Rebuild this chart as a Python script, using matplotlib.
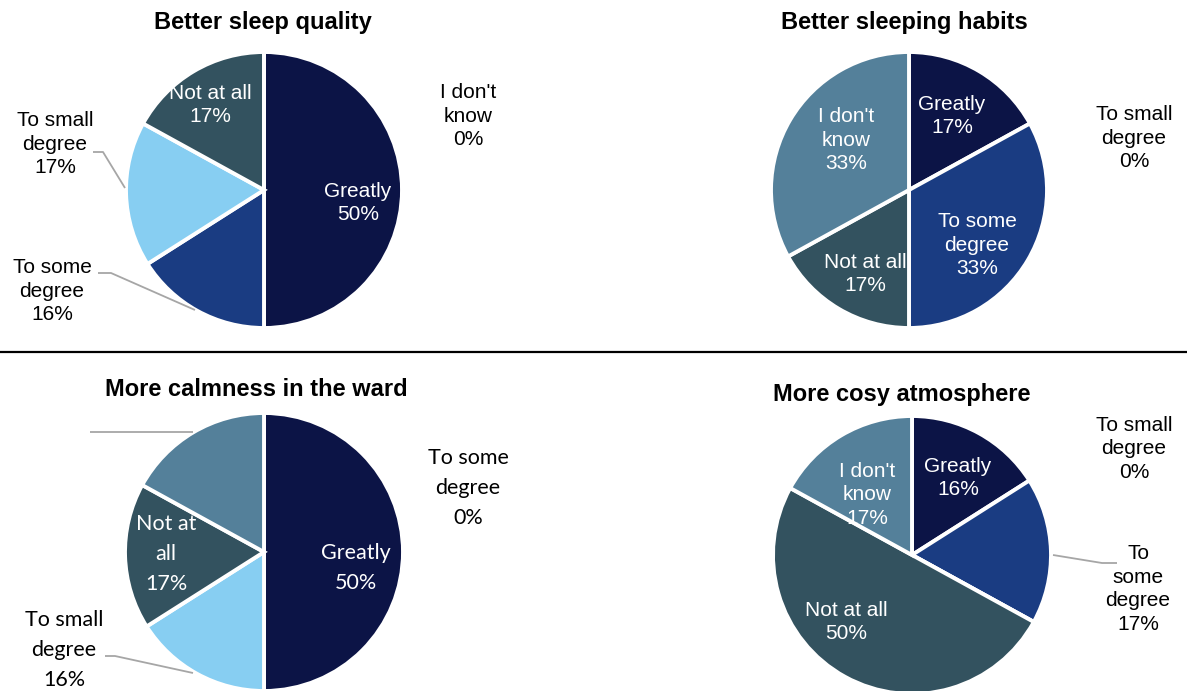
import matplotlib.pyplot as plt

W, H = 1187, 691

# Answer categories, in the order the slices are drawn (clockwise from 12 o'clock)
categories = ["Greatly", "To some degree", "To small degree", "Not at all", "I don't know"]
colors = ["#0c1446", "#1a3c82", "#87cef2", "#33525f", "#54809a"]

titles = ["Better sleep quality", "Better sleeping habits",
          "More calmness in the ward", "More cosy atmosphere"]

sleep_quality = [50, 16, 17, 17, 0]
sleeping_habits = [17, 33, 0, 17, 33]
calmness = [50, 0, 16, 17, 17]
cosy_atmosphere = [16, 17, 0, 50, 17]

# Wrapped label text per chart (None = label not shown)
names_sleep_quality = ["Greatly", "To some\ndegree", "To small\ndegree", "Not at all", "I don't\nknow"]
names_sleeping_habits = ["Greatly", "To some\ndegree", "To small\ndegree", "Not at all", "I don't\nknow"]
names_calmness = ["Greatly", "To some\ndegree", "To small\ndegree", "Not at\nall", None]
names_cosy = ["Greatly", "To\nsome\ndegree", "To small\ndegree", "Not at all", "I don't\nknow"]

# Layout in pixels (y measured from top)
charts = [
    dict(values=sleep_quality, names=names_sleep_quality, center=(264, 190), r=138,
         title_xy=(263, 22), font="Liberation Sans", size=15, ls=1.32,
         label_xy=[(358, 203), (52, 291), (55, 144), (210, 105), (468, 116)],
         leaders={1: [(98, 273), (111, 273), (195, 310)],
                  2: [(93, 152), (103, 152), (125, 188)]}),
    dict(values=sleeping_habits, names=names_sleeping_habits, center=(909, 190), r=138,
         title_xy=(904, 22), font="Liberation Sans", size=15, ls=1.32,
         label_xy=[(952, 116), (977, 245), (1134, 138), (865, 274), (846, 140)],
         leaders={}),
    dict(values=calmness, names=names_calmness, center=(264, 552), r=139,
         title_xy=(256, 389), font="Lato", size=15.5, ls=1.6,
         label_xy=[(356, 568), (468, 488), (64, 650), (166, 554), None],
         leaders={2: [(105, 656), (115, 656), (193, 673)],
                  4: [(90, 432), (193, 432)]}),
    dict(values=cosy_atmosphere, names=names_cosy, center=(912, 555), r=139,
         title_xy=(902, 394), font="Liberation Sans", size=15, ls=1.32,
         label_xy=[(958, 478), (1138, 589), (1134, 449), (846, 622), (867, 495)],
         leaders={1: [(1053, 555), (1102, 563), (1117, 563)]}),
]

fig = plt.figure(figsize=(W / 100, H / 100), dpi=100)
ax = fig.add_axes([0, 0, 1, 1])

for title, ch in zip(titles, charts):
    cx, cy = ch["center"]
    wedges, _ = ax.pie(ch["values"], colors=colors, startangle=90, counterclock=False,
                       center=(cx, H - cy), radius=ch["r"], frame=True,
                       wedgeprops=dict(edgecolor="white", linewidth=2.8))
    ax.text(ch["title_xy"][0], H - ch["title_xy"][1], title, ha="center", va="center",
            fontsize=17, fontweight="bold", family="Liberation Sans", color="black")

    for i, (name, value) in enumerate(zip(ch["names"], ch["values"])):
        pos = ch["label_xy"][i]
        if name is None or pos is None:
            continue
        # slices with a value sit inside the pie in white, empty ones outside in black
        inside = value > 0 and i not in ch["leaders"]
        ax.text(pos[0], H - pos[1], f"{name}\n{value}%", ha="center", va="center",
                fontsize=ch["size"], family=ch["font"], linespacing=ch["ls"],
                color="white" if inside else "black")

    for pts in ch["leaders"].values():
        ax.plot([p[0] for p in pts], [H - p[1] for p in pts], color="#a6a6a6", lw=1.3,
                solid_capstyle="butt")

# divider between the two rows
ax.plot([0, W], [H - 352, H - 352], color="black", lw=1.6)

ax.set_xlim(0, W)
ax.set_ylim(0, H)
ax.set_aspect("equal")
ax.axis("off")

fig.savefig("out.png", dpi=100)
